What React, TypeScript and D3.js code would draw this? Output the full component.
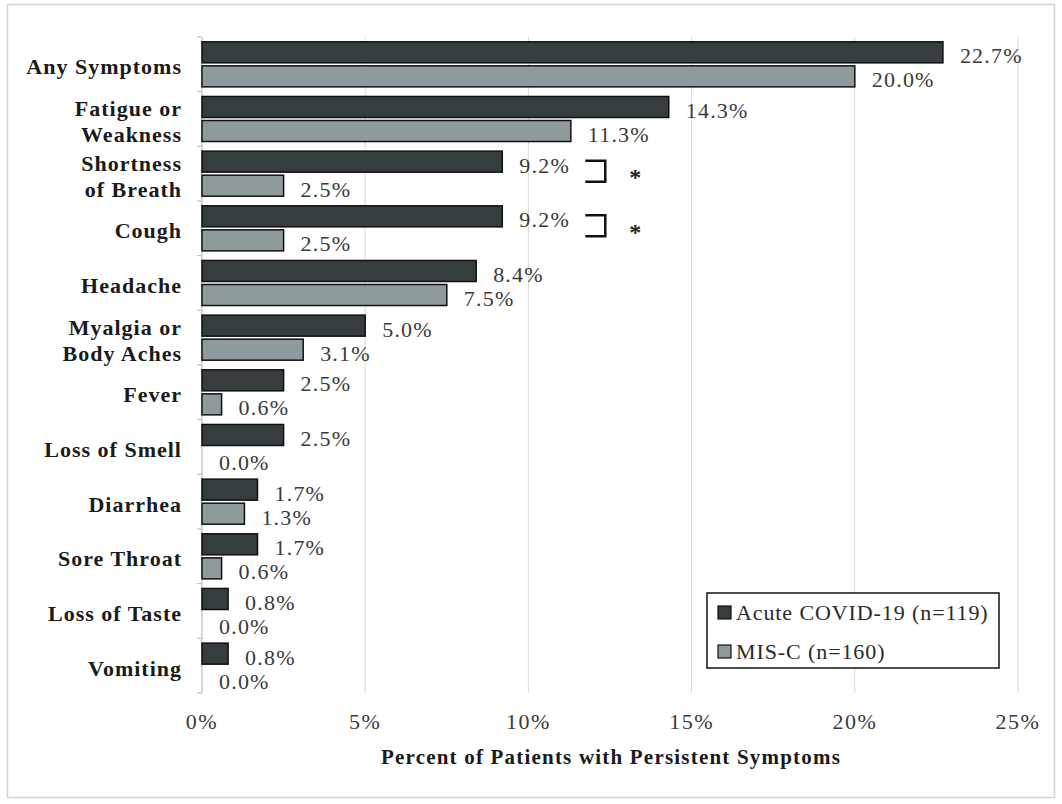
import React from 'react';
import * as d3 from 'd3';

// Persistent symptoms by category, percent of patients
const categories = [
  'Any Symptoms',
  'Fatigue or\nWeakness',
  'Shortness\nof Breath',
  'Cough',
  'Headache',
  'Myalgia or\nBody Aches',
  'Fever',
  'Loss of Smell',
  'Diarrhea',
  'Sore Throat',
  'Loss of Taste',
  'Vomiting',
];
const acuteCovid = [22.7, 14.3, 9.2, 9.2, 8.4, 5.0, 2.5, 2.5, 1.7, 1.7, 0.8, 0.8];
const misC = [20.0, 11.3, 2.5, 2.5, 7.5, 3.1, 0.6, 0.0, 1.3, 0.6, 0.0, 0.0];
const seriesNames = ['Acute COVID-19 (n=119)', 'MIS-C (n=160)'];
const xTicks = [0, 5, 10, 15, 20, 25];
const significant = ['Shortness\nof Breath', 'Cough'];

const W = 1062;
const H = 804;
const FONT = '"Liberation Serif", "Times New Roman", serif';
const DARK = '#363d3f';
const LIGHT = '#8e9a9c';

export default function App() {
  const x = d3.scaleLinear().domain([0, 25]).range([202, 1018]);
  const y = d3.scaleBand<string>().domain(categories).range([37, 693]).padding(0);
  const inner = d3
    .scaleBand<string>()
    .domain(['acute', 'misc'])
    .range([0, y.bandwidth()])
    .paddingInner(0.125)
    .paddingOuter(0.2);

  const series = [
    { key: 'acute', values: acuteCovid, fill: DARK },
    { key: 'misc', values: misC, fill: LIGHT },
  ];

  return (
    <div style={{ position: 'absolute', left: 0, top: 0 }}>
      <svg width={W} height={H} style={{ display: 'block', background: '#fff' }}>
        {/* outer frame */}
        <rect x={7.5} y={4.5} width={1047} height={793} fill="#fff" stroke="#d4d4d4" strokeWidth={1.5} />

        {/* gridlines */}
        {xTicks.slice(1).map(t => (
          <line key={t} x1={x(t)} x2={x(t)} y1={37} y2={693} stroke="#d9d9d9" strokeWidth={1} />
        ))}

        {/* y axis + ticks */}
        <line x1={x(0)} x2={x(0)} y1={37} y2={693} stroke="#bdbdbd" strokeWidth={1.2} />
        {categories.map((c, i) => (
          <line key={'t' + i} x1={x(0) - 5} x2={x(0)} y1={y(c)!} y2={y(c)!} stroke="#bdbdbd" />
        ))}
        <line x1={x(0) - 5} x2={x(0)} y1={693} y2={693} stroke="#bdbdbd" />

        {/* bars */}
        {series.map(s =>
          categories.map((c, i) => {
            const v = s.values[i];
            const y0 = y(c)! + inner(s.key)!;
            return (
              <g key={s.key + i}>
                {v > 0 && (
                  <rect
                    x={x(0)}
                    y={y0}
                    width={x(v) - x(0)}
                    height={inner.bandwidth()}
                    fill={s.fill}
                    stroke="#111"
                    strokeWidth={1.5}
                  />
                )}
                <text
                  x={x(v) + 17}
                  y={y0 + inner.bandwidth() / 2 + 11}
                  fontFamily={FONT}
                  fontSize={22}
                  letterSpacing={1.2}
                  fill="#3a3a3a"
                >
                  {v.toFixed(1)}%
                </text>
              </g>
            );
          })
        )}

        {/* category labels */}
        {categories.map(c => {
          const lines = c.split('\n');
          const cy = y(c)! + y.bandwidth() / 2;
          return (
            <text
              key={c}
              x={x(0) - 20}
              textAnchor="end"
              fontFamily={FONT}
              fontWeight="bold"
              fontSize={22}
              letterSpacing={1}
              fill="#1a1a1a"
            >
              {lines.map((l, k) => (
                <tspan key={k} x={x(0) - 20} y={cy + 10 + (k - (lines.length - 1) / 2) * 26}>
                  {l}
                </tspan>
              ))}
            </text>
          );
        })}

        {/* significance brackets */}
        {significant.map(c => {
          const i = categories.indexOf(c);
          const top = y(c)! + inner('acute')! + inner.bandwidth() / 2 - 1;
          const bot = y(c)! + inner('misc')! + inner.bandwidth() / 2 - 4;
          const bx = x(acuteCovid[i]) + 83;
          return (
            <g key={'sig' + c}>
              <path
                d={`M${bx},${top}H${bx + 20}V${bot}H${bx}`}
                fill="none"
                stroke="#111"
                strokeWidth={2.5}
              />
              <text
                x={bx + 50}
                y={(top + bot) / 2 + 14}
                textAnchor="middle"
                fontFamily={FONT}
                fontWeight="bold"
                fontSize={24}
                fill="#222"
              >
                *
              </text>
            </g>
          );
        })}

        {/* x tick labels */}
        {xTicks.map(t => (
          <text
            key={'xl' + t}
            x={x(t)}
            y={729}
            textAnchor="middle"
            fontFamily={FONT}
            fontSize={22}
            letterSpacing={1.5}
            fill="#3a3a3a"
          >
            {t}%
          </text>
        ))}
        <text
          x={611}
          y={764}
          textAnchor="middle"
          fontFamily={FONT}
          fontWeight="bold"
          fontSize={21}
          letterSpacing={1.2}
          fill="#1a1a1a"
        >
          Percent of Patients with Persistent Symptoms
        </text>

        {/* legend */}
        <rect x={707} y={593} width={292} height={75} fill="#fff" stroke="#111" strokeWidth={1.5} />
        {seriesNames.map((n, k) => (
          <g key={n} transform={`translate(718,${613 + k * 39})`}>
            <rect x={0} y={-7} width={13} height={13} fill={k === 0 ? DARK : LIGHT} stroke="#111" strokeWidth={1.2} />
            <text x={18} y={7} fontFamily={FONT} fontSize={22} letterSpacing={0.9} fill="#2a2a2a">
              {n}
            </text>
          </g>
        ))}
      </svg>
    </div>
  );
}
